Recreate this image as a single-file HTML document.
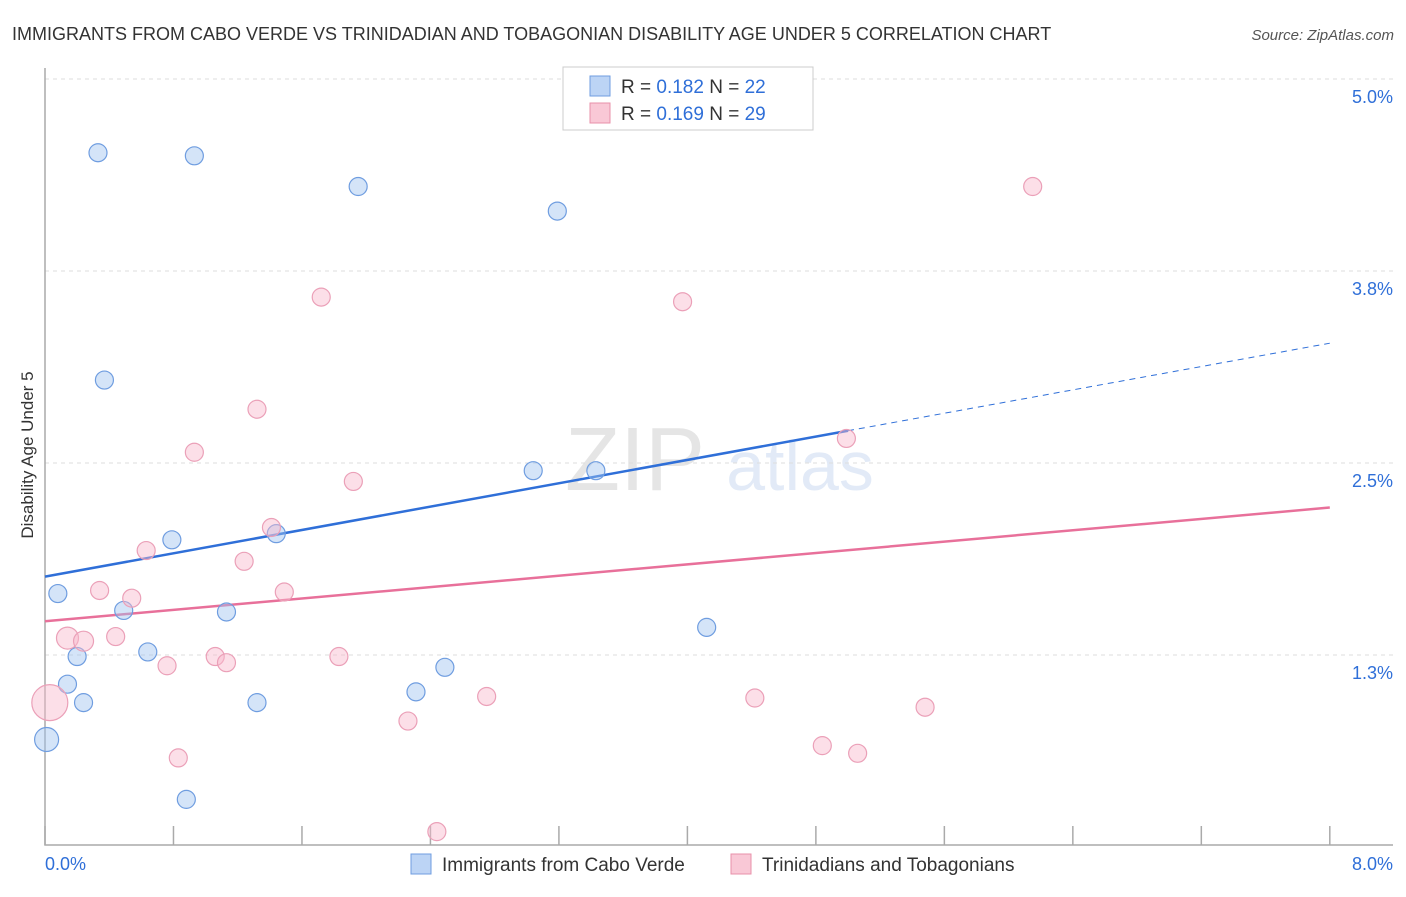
<!DOCTYPE html>
<html><head><meta charset="utf-8"><style>
body{margin:0;background:#fff;font-family:"Liberation Sans",sans-serif;}
svg text{font-family:"Liberation Sans",sans-serif;}
</style></head><body>
<svg id="chart" width="1406" height="892" xmlns="http://www.w3.org/2000/svg">
<text x="12" y="40" font-size="18" fill="#333">IMMIGRANTS FROM CABO VERDE VS TRINIDADIAN AND TOBAGONIAN DISABILITY AGE UNDER 5 CORRELATION CHART</text>
<text x="1394" y="40" font-size="15" fill="#555" text-anchor="end" font-style="italic">Source: ZipAtlas.com</text>
<g opacity="0.25">
<text x="635" y="490" font-size="90" fill="#999" font-family="Liberation Serif" text-anchor="middle">ZIP</text>
<text x="800" y="490" font-size="70" fill="#8fb0e0" text-anchor="middle">atlas</text>
</g>
<g id="grid"></g>
<g id="axes"></g>
<g id="lines"></g>
<g id="points"></g>
<text transform="translate(33,455) rotate(-90)" font-size="17" fill="#333" text-anchor="middle">Disability Age Under 5</text>
<g>
<rect x="563" y="67" width="250" height="63" fill="#fff" stroke="#ccc"/>
<rect x="590" y="76" width="20" height="20" fill="#bcd4f5" stroke="#6f9de0"/>
<text x="621" y="93" font-size="19" fill="#333">R = <tspan fill="#2f6fd8">0.182</tspan>   N = <tspan fill="#2f6fd8">22</tspan></text>
<rect x="590" y="103" width="20" height="20" fill="#f9c8d6" stroke="#e890aa"/>
<text x="621" y="120" font-size="19" fill="#333">R = <tspan fill="#2f6fd8">0.169</tspan>   N = <tspan fill="#2f6fd8">29</tspan></text>
</g>
<g>
<rect x="411" y="854" width="20" height="20" fill="#bcd4f5" stroke="#6f9de0"/>
<text x="442" y="871" font-size="19" fill="#333">Immigrants from Cabo Verde</text>
<rect x="731" y="854" width="20" height="20" fill="#f9c8d6" stroke="#e890aa"/>
<text x="762" y="871" font-size="19" fill="#333">Trinidadians and Tobagonians</text>
</g>
</svg>
<script>
const blueX=[0.33,0.93,1.95,3.19,0.37,3.04,3.43,0.79,1.44,0.08,0.49,1.13,0.20,0.64,4.12,2.49,0.14,0.24,2.31,1.32,0.01,0.88];
const blueY=[4.52,4.50,4.30,4.14,3.04,2.45,2.45,2.00,2.04,1.65,1.54,1.53,1.24,1.27,1.43,1.17,1.06,0.94,1.01,0.94,0.70,0.31];
const blueR=[9,9,9,9,9,9,9,9,9,9,9,9,9,9,9,9,9,9,9,9,12,9];
const pinkX=[6.15,1.72,3.97,1.32,0.93,1.92,4.99,1.41,0.63,1.24,0.34,0.54,1.49,0.14,0.24,0.44,1.06,1.13,0.76,1.83,2.75,4.42,5.48,2.26,0.83,4.84,5.06,2.44,0.03];
const pinkY=[4.30,3.58,3.55,2.85,2.57,2.38,2.66,2.08,1.93,1.86,1.67,1.62,1.66,1.36,1.34,1.37,1.24,1.20,1.18,1.24,0.98,0.97,0.91,0.82,0.58,0.66,0.61,0.10,0.94];
const pinkR=[9,9,9,9,9,9,9,9,9,9,9,9,9,11,10,9,9,9,9,9,9,9,9,9,9,9,9,9,18];
const yTicks=[1.25,2.5,3.75,5.0];
const yTickLabels=["1.3%","2.5%","3.8%","5.0%"];
const xTicks=[0,0.8,1.6,2.4,3.2,4.0,4.8,5.6,6.4,7.2,8.0];
const blueTrend=[1.76,3.28];
const pinkTrend=[1.47,2.21];
const blueSolidEnd=5.0;
const NS="http://www.w3.org/2000/svg";
const X=v=>45+v*160.6;
const Y=v=>79+(5-v)*153.6;
function mk(tag,attrs,parent){const e=document.createElementNS(NS,tag);for(const k in attrs)e.setAttribute(k,attrs[k]);parent.appendChild(e);return e;}
const grid=document.getElementById('grid'),axes=document.getElementById('axes'),lines=document.getElementById('lines'),pts=document.getElementById('points');
yTicks.forEach((t,i)=>{
 const l=mk('line',{x1:45,x2:1393,y1:Y(t),y2:Y(t),stroke:'#ddd','stroke-dasharray':'4,4'},grid);
 
 
 const tx=mk('text',{x:1393,y:Y(t)+24,'font-size':18,fill:'#2f6fd8','text-anchor':'end'},grid);
 tx.textContent=yTickLabels[i];
 
 
});
const ax=mk('path',{d:'M45,68 V845 H1393',fill:'none',stroke:'#aaa','stroke-width':1.5},axes);


xTicks.forEach(t=>{
 const l=mk('line',{x1:X(t),x2:X(t),y1:826,y2:845,stroke:'#aaa','stroke-width':1.5},axes);
 
 
});
const xl0=mk('text',{x:45,y:870,'font-size':18,fill:'#2f6fd8'},axes);xl0.textContent='0.0%';


const xl1=mk('text',{x:1393,y:870,'font-size':18,fill:'#2f6fd8','text-anchor':'end'},axes);xl1.textContent='8.0%';


const tb=v=>blueTrend[0]+(blueTrend[1]-blueTrend[0])*v/8;
const tp=v=>pinkTrend[0]+(pinkTrend[1]-pinkTrend[0])*v/8;
const bl=mk('line',{x1:X(0),y1:Y(tb(0)),x2:X(blueSolidEnd),y2:Y(tb(blueSolidEnd)),stroke:'#2f6fd8','stroke-width':2.5},lines);


const bd=mk('line',{x1:X(blueSolidEnd),y1:Y(tb(blueSolidEnd)),x2:X(8),y2:Y(tb(8)),stroke:'#2f6fd8','stroke-width':1,'stroke-dasharray':'6,5'},lines);


const pl=mk('line',{x1:X(0),y1:Y(tp(0)),x2:X(8),y2:Y(tp(8)),stroke:'#e8709a','stroke-width':2.5},lines);


blueX.forEach((v,i)=>{
 const c=mk('circle',{cx:X(v),cy:Y(blueY[i]),r:blueR[i],fill:'rgba(160,195,240,0.45)',stroke:'#6f9de0','stroke-width':1.2},pts);
 
 
});
pinkX.forEach((v,i)=>{
 const c=mk('circle',{cx:X(v),cy:Y(pinkY[i]),r:pinkR[i],fill:'rgba(248,185,205,0.45)',stroke:'#eba0b8','stroke-width':1.2},pts);
 
 
});
</script>
</body></html>
